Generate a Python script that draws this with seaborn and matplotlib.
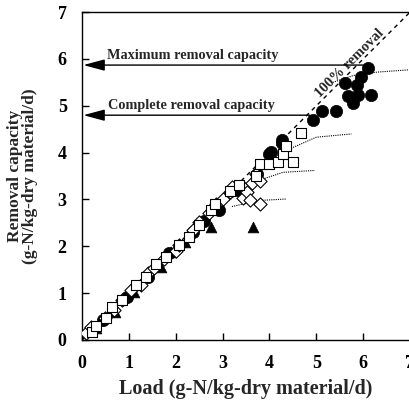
import numpy as np
import pandas as pd
import matplotlib
matplotlib.use("Agg")
import matplotlib.pyplot as plt
import seaborn as sns

# ---- data ----
circ_x = [0.45, 0.95, 1.40, 1.86, 2.36, 2.60, 2.93, 3.30, 3.73, 4.00, 4.04, 4.26, 4.27,
          4.92, 5.13, 5.42, 5.61, 5.68, 5.79, 5.86, 5.90, 5.95, 6.11, 6.16]
circ_y = [0.42, 0.92, 1.35, 1.85, 2.30, 2.55, 2.77, 3.20, 3.55, 3.98, 4.01, 4.21, 4.26,
          4.70, 4.88, 4.88, 5.48, 5.21, 5.05, 5.44, 5.23, 5.62, 5.80, 5.23]

tri_x = [0.30, 0.70, 1.11, 1.68, 1.90, 2.20, 2.76, 3.65]
tri_y = [0.25, 0.60, 1.03, 1.56, 1.88, 2.10, 2.41, 2.41]

sq_x = [0.21, 0.30, 0.51, 0.64, 0.86, 1.16, 1.37, 1.58, 1.80, 2.08, 2.29, 2.50, 2.76,
        2.83, 3.15, 3.36, 3.72, 3.79, 4.00, 4.18, 4.28, 4.36, 4.50, 4.68]
sq_y = [0.17, 0.30, 0.47, 0.70, 0.85, 1.17, 1.34, 1.63, 1.77, 2.02, 2.19, 2.45, 2.77,
        2.91, 3.19, 3.30, 3.51, 3.76, 3.76, 3.79, 3.98, 4.15, 3.79, 4.43]

dia_x = [0.08, 0.19, 0.50, 0.69, 0.86, 1.04, 1.26, 1.40, 1.54, 1.76, 2.00, 2.08, 2.36,
         2.50, 2.72, 2.87, 3.00, 3.15, 3.21, 3.43, 3.43, 3.53, 3.58, 3.62, 3.72, 3.79, 3.79]
dia_y = [0.15, 0.28, 0.47, 0.64, 0.85, 1.06, 1.17, 1.43, 1.53, 1.74, 1.91, 2.02, 2.34,
         2.51, 2.72, 2.91, 3.02, 3.15, 3.26, 3.26, 3.04, 3.15, 2.98, 3.36, 3.55, 3.40, 2.91]

curveA_x = [5.35, 5.80, 6.30, 7.00]
curveA_y = [5.50, 5.65, 5.72, 5.77]
curveB_x = [4.00, 4.50, 5.00, 5.75]
curveB_y = [3.85, 4.11, 4.33, 4.40]
curveC_x = [2.75, 3.30, 3.75, 4.29, 4.97]
curveC_y = [2.70, 3.10, 3.40, 3.58, 3.62]
curveD_x = [3.20, 3.79, 4.36]
curveD_y = [2.85, 2.98, 3.01]

diag = [0, 7]
max_cap = 5.87
max_cap_end = 6.0
comp_cap = 4.80
comp_cap_end = 4.86

ticks = [0, 1, 2, 3, 4, 5, 6, 7]

# ---- plotting ----
sns.set_style("ticks")
plt.rcParams['font.family'] = ['Liberation Serif', 'DejaVu Serif']
plt.rcParams['font.weight'] = 'bold'

fig = plt.figure(figsize=(4.10, 4.05), dpi=100)
ax = fig.add_axes([0.2, 0.1605, 0.80, 0.8095])

sns.lineplot(x=diag, y=diag, ax=ax, color='black', lw=1.0, linestyle=(0, (3, 3)))
for cx, cy in [(curveA_x, curveA_y), (curveB_x, curveB_y),
               (curveC_x, curveC_y), (curveD_x, curveD_y)]:
    sns.lineplot(x=cx, y=cy, ax=ax, color='black', lw=0.8, linestyle=(0, (1, 1)),
                 sort=False)

sns.scatterplot(x=tri_x, y=tri_y, ax=ax, marker='^', s=60, color='black',
                edgecolor='black', linewidth=0.5, zorder=3)
sns.scatterplot(x=circ_x, y=circ_y, ax=ax, marker='o', s=78, color='black',
                edgecolor='black', linewidth=0.5, zorder=3)
sns.scatterplot(x=dia_x, y=dia_y, ax=ax, marker='D', s=45, color='white',
                edgecolor='black', linewidth=0.8, zorder=4)
sns.scatterplot(x=sq_x, y=sq_y, ax=ax, marker='s', s=60, color='white',
                edgecolor='black', linewidth=0.8, zorder=5)

arrow_kw = dict(arrowstyle='-|>,head_length=1.3,head_width=0.35', color='black', lw=1.0,
                shrinkA=0, shrinkB=0)
ax.annotate('', xy=(0.03, max_cap), xytext=(max_cap_end, max_cap), arrowprops=arrow_kw, zorder=6)
ax.annotate('', xy=(0.03, comp_cap), xytext=(comp_cap_end, comp_cap), arrowprops=arrow_kw, zorder=6)
ax.text(0.54, max_cap + 0.07, 'Maximum removal capacity', fontsize=10.3, fontweight='bold',
        va='bottom', ha='left')
ax.text(0.55, comp_cap + 0.07, 'Complete removal capacity', fontsize=10.3, fontweight='bold',
        va='bottom', ha='left')
ax.text(5.72, 5.90, '100% removal', fontsize=10.5, fontweight='bold', rotation=45,
        rotation_mode='anchor', ha='center', va='center')

ax.set_xlim(0, 7)
ax.set_ylim(0, 7)
ax.set_xticks(ticks)
ax.set_yticks(ticks)
ax.set_xticklabels([str(t) for t in ticks], fontsize=13, fontweight='bold')
ax.set_yticklabels([str(t) for t in ticks], fontsize=13, fontweight='bold')
ax.tick_params(direction='in', length=5, width=1, colors='black')
ax.tick_params(axis='x', pad=11)
ax.tick_params(axis='y', pad=11)
for side in ['left', 'bottom', 'top']:
    ax.spines[side].set_linewidth(1.0)
    ax.spines[side].set_color('black')
ax.spines['right'].set_visible(False)

ax.set_xlabel('Load (g-N/kg-dry material/d)', fontsize=14.5, fontweight='bold', labelpad=5)
ax.set_ylabel('Removal capacity\n(g-N/kg-dry material/d)', fontsize=12.5, fontweight='bold',
              labelpad=14, linespacing=0.95)

fig.savefig('out.png', dpi=100)
